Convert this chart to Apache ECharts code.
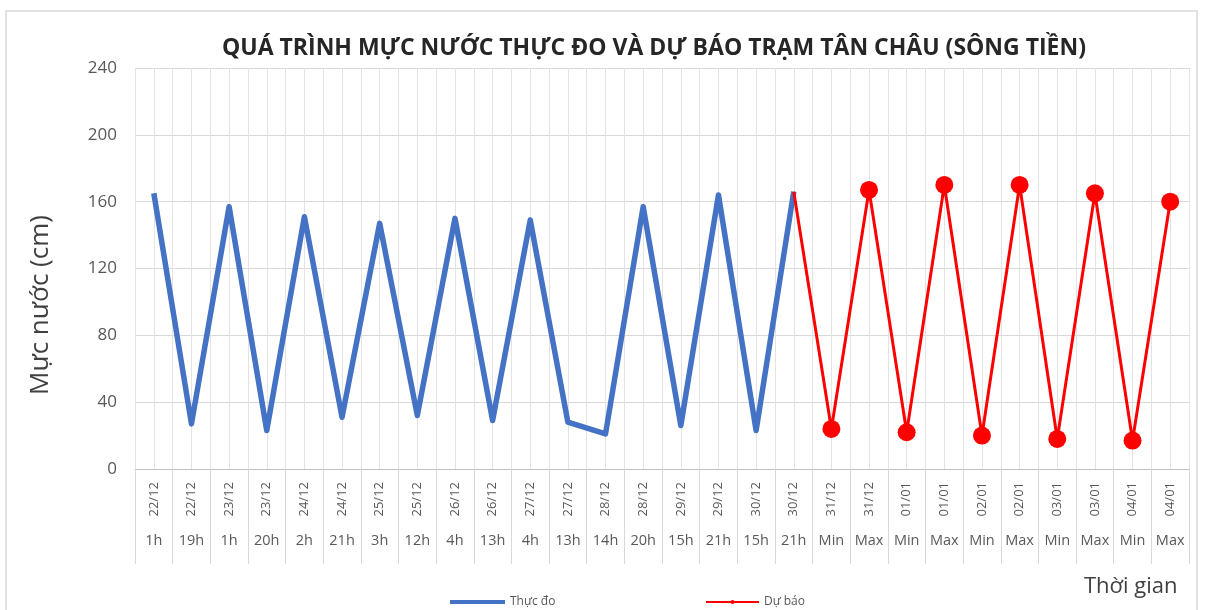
<!DOCTYPE html>
<html>
<head>
<meta charset="utf-8">
<script src="https://cdn.jsdelivr.net/npm/echarts@6/dist/echarts.min.js"></script>
<style>
html,body{margin:0;padding:0;background:#fff;}
#chart{width:1208px;height:610px;}
</style>
</head>
<body>
<div id="chart"></div>
<script>
var dates = ['22/12','22/12','23/12','23/12','24/12','24/12','25/12','25/12','26/12','26/12','27/12','27/12','28/12','28/12','29/12','29/12','30/12','30/12',
             '31/12','31/12','01/01','01/01','02/01','02/01','03/01','03/01','04/01','04/01'];
var hours = ['1h','19h','1h','20h','2h','21h','3h','12h','4h','13h','4h','13h','14h','20h','15h','21h','15h','21h',
             'Min','Max','Min','Max','Min','Max','Min','Max','Min','Max'];
// Observed (Thực đo): 22/12 1h .. 30/12 21h
var observed = [165, 27, 157, 23, 151, 31, 147, 32, 150, 29, 149, 28, 21, 157, 26, 164, 23, 166];
// Forecast (Dự báo): starts from 30/12 21h, then 31/12 Min .. 04/01 Max
var forecast = [166, 24, 167, 22, 170, 20, 170, 18, 165, 17, 160];
var yTicks = [0, 40, 80, 120, 160, 200, 240];

var n = dates.length;
var obsData = [];
var fcData = [];
for (var i = 0; i < n; i++) {
  obsData.push(i < observed.length ? observed[i] : null);
  var fi = i - (observed.length - 1);
  if (fi < 0) fcData.push(null);
  else if (fi === 0) fcData.push({value: forecast[fi], symbol: 'none'});
  else fcData.push(forecast[fi]);
}

var FONT = 'Open Sans';
var chart = echarts.init(document.getElementById('chart'));
chart.setOption({
  backgroundColor: '#ffffff',
  animation: false,
  title: {
    text: 'QUÁ TRÌNH MỰC NƯỚC THỰC ĐO VÀ DỰ BÁO TRẠM TÂN CHÂU (SÔNG TIỀN)',
    left: 649, top: 32, textAlign: 'center',
    textStyle: {fontFamily: FONT, fontWeight: 'bold', fontSize: 23, color: '#262626'}
  },
  legend: [
    {data: [{name: 'Thực đo', icon: 'rect'}], left: 445, top: 591, itemWidth: 55, itemHeight: 4, itemGap: 5,
     textStyle: {fontFamily: FONT, fontSize: 12, color: '#595959'}},
    {data: ['Dự báo'], left: 700, top: 591, itemWidth: 53, itemHeight: 5, itemGap: 5,
     textStyle: {fontFamily: FONT, fontSize: 12, color: '#595959'}}
  ],
  grid: {left: 135, right: 19, top: 68, bottom: 141, containLabel: false},
  xAxis: [
    {
      type: 'category', data: dates, position: 'bottom', boundaryGap: true,
      axisLine: {show: true, lineStyle: {color: '#bfbfbf', width: 1}},
      axisTick: {show: true, interval: 0, length: 95, lineStyle: {color: '#d9d9d9'}},
      axisLabel: {interval: 0, rotate: 90, margin: 13, fontFamily: FONT, fontSize: 13, color: '#595959'},
      splitLine: {show: false}
    },
    {
      type: 'category', data: hours, position: 'bottom', boundaryGap: true,
      axisLine: {show: false}, axisTick: {show: false},
      axisLabel: {interval: 0, margin: 64, fontFamily: FONT, fontSize: 14.5, color: '#595959'},
      splitLine: {show: false}
    },
    {
      type: 'value', min: 0, max: 2 * n, interval: 1, position: 'top',
      axisLine: {show: false}, axisTick: {show: false}, axisLabel: {show: false},
      splitLine: {show: true, lineStyle: {color: '#e3e3e3', width: 1}}
    }
  ],
  yAxis: {
    type: 'value', min: yTicks[0], max: yTicks[yTicks.length - 1], interval: 40,
    axisLine: {show: false}, axisTick: {show: false},
    axisLabel: {margin: 18, fontFamily: FONT, fontSize: 17, color: '#595959'},
    splitLine: {show: true, lineStyle: {color: '#d9d9d9', width: 1}}
  },
  series: [
    {
      name: 'Thực đo', type: 'line', xAxisIndex: 0, data: obsData,
      showSymbol: false, symbol: 'none', connectNulls: false,
      lineStyle: {color: '#4472C4', width: 5.5, join: 'round'},
      itemStyle: {color: '#4472C4'}, z: 3
    },
    {
      name: 'Dự báo', type: 'line', xAxisIndex: 0, data: fcData,
      symbol: 'circle', symbolSize: 18, showSymbol: true, connectNulls: false,
      lineStyle: {color: '#FF0000', width: 3},
      itemStyle: {color: '#FF0000'}, z: 4
    }
  ],
  graphic: [
    {type: 'rect', shape: {x: 6, y: 11, width: 1191, height: 640},
     style: {fill: 'none', stroke: '#d9d9d9', lineWidth: 1.5}, z: -1},
    {type: 'text', x: 41, y: 305, rotation: Math.PI / 2,
     style: {text: 'Mực nước (cm)', fontFamily: FONT, fontSize: 26, fill: '#404040', align: 'center', verticalAlign: 'middle'}},
    {type: 'text', left: 1084, top: 576,
     style: {text: 'Thời gian', fontFamily: FONT, fontSize: 22, fill: '#404040'}}
  ]
});
</script>
</body>
</html>
